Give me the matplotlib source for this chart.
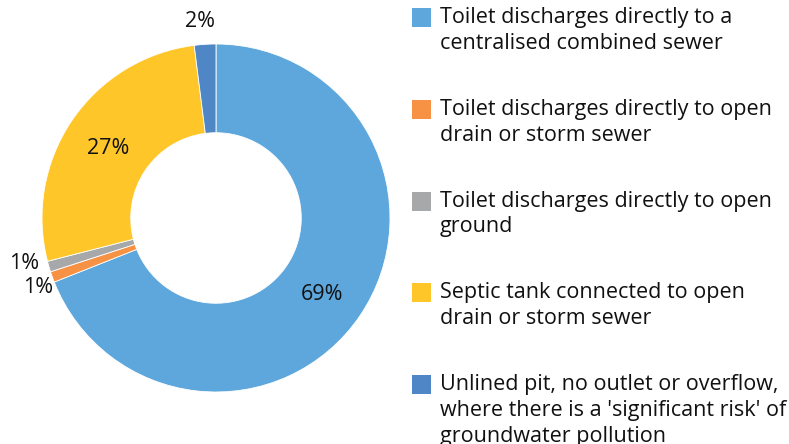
import matplotlib.pyplot as plt
from matplotlib.patches import Rectangle

plt.rcParams['font.family'] = ['Open Sans', 'DejaVu Sans']

# Dados do gráfico
categorias = [
    "Toilet discharges directly to a\ncentralised combined sewer",
    "Toilet discharges directly to open\ndrain or storm sewer",
    "Toilet discharges directly to open\nground",
    "Septic tank connected to open\ndrain or storm sewer",
    "Unlined pit, no outlet or overflow,\nwhere there is a 'significant risk' of\ngroundwater pollution",
]
valores = [69, 1, 1, 27, 2]
rotulos = ["69%", "1%", "1%", "27%", "2%"]
cores = ["#5DA7DC", "#F79143", "#A6A8AA", "#FFC629", "#4F86C6"]

W, H = 789, 444
fig = plt.figure(figsize=(W / 100, H / 100), dpi=100)

# Eixo do donut (centro ~ (216, 218) px, raio ~174 px)
cx, cy, r = 216, 218, 174
ax = fig.add_axes([(cx - r) / W, (H - cy - r) / H, 2 * r / W, 2 * r / H])
ax.pie(valores, colors=cores, startangle=90, counterclock=False,
       radius=1.0, wedgeprops=dict(width=0.51, edgecolor="white", linewidth=0.6))
ax.set_xlim(-1, 1)
ax.set_ylim(-1, 1)
ax.set_aspect("equal")
ax.axis("off")

# Posições dos rótulos (em unidades do raio)
pos_rotulos = [(0.61, -0.44), (-1.02, -0.40), (-1.10, -0.26), (-0.62, 0.40), (-0.09, 1.13)]
for txt, (x, y) in zip(rotulos, pos_rotulos):
    ax.text(x, y, txt, ha="center", va="center", fontsize=15.5, color="#111111",
            clip_on=False)

# Legenda manual
leg_x = 412 / W
txt_x = 440 / W
sq = 19
for i, (lab, cor) in enumerate(zip(categorias, cores)):
    top = 8 + i * 91.8
    fig.patches.append(Rectangle((leg_x, (H - top - sq) / H), sq / W, sq / H,
                                 transform=fig.transFigure, facecolor=cor,
                                 edgecolor="none"))
    fig.text(txt_x, (H - top + 1) / H, lab, ha="left", va="top", fontsize=15.5,
             color="#111111", linespacing=1.3)

fig.savefig("out.png", dpi=100)
